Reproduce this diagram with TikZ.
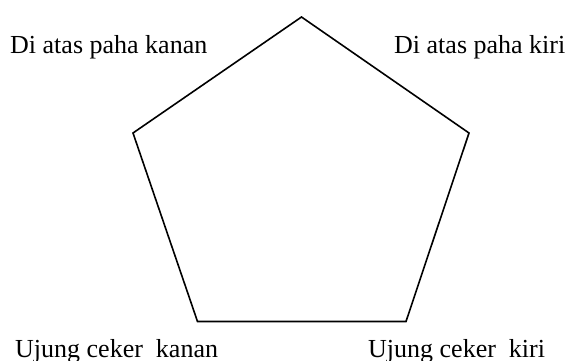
\documentclass[tikz,border=0pt]{standalone}
\usepackage{fontspec}
\setmainfont{Liberation Serif}
\begin{document}
\begin{tikzpicture}[x=1pt,y=-1pt,
  lbl/.style={anchor=base west,inner sep=0pt,font=\fontsize{26}{30}\selectfont},
  edge/.style={line width=1.6pt,line join=miter}]
\useasboundingbox (0,0) rectangle (573,361);
\coordinate (t) at (301.5,17);
\coordinate (r) at (469,133);
\coordinate (br) at (406,321.5);
\coordinate (bl) at (197.5,321.5);
\coordinate (l) at (133,133);
\draw[edge] (t) -- (r) -- (br) -- (bl) -- (l) -- cycle;
\node[lbl] (tl) at (10,54) {Di atas paha kanan};
\node[lbl] (tr) at (394,54) {Di atas paha kiri};
\node[lbl] (bll) at (15,357) {Ujung ceker\ \ kanan};
\node[lbl] (brl) at (368,357) {Ujung ceker\ \ kiri};
\end{tikzpicture}
\end{document}
